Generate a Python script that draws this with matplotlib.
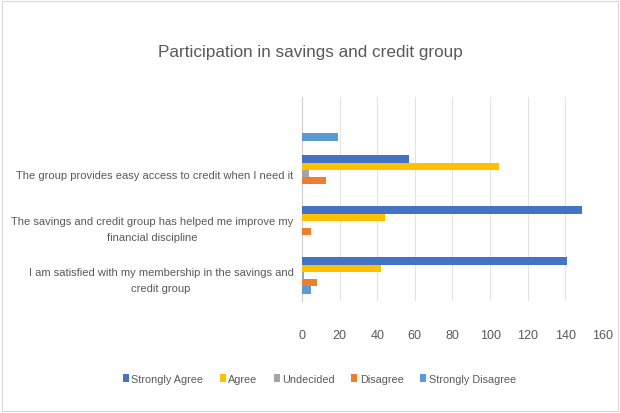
import numpy as np
import matplotlib
matplotlib.use("Agg")
import matplotlib.pyplot as plt
from matplotlib.patches import Rectangle

# ---------------------------------------------------
# DATA (categories bottom -> top, as drawn by Excel)
# ---------------------------------------------------
categories = [
    "I am satisfied with my membership in the savings and\ncredit group",
    "The savings and credit group has helped me improve my\nfinancial discipline",
    "The group provides easy access to credit when I need it",
    "",
]
series_names = ["Strongly Agree", "Agree", "Undecided", "Disagree", "Strongly Disagree"]
strongly_agree = [141, 149, 57, 0]
agree = [42, 44, 105, 0]
undecided = [1, 0, 4, 0]
disagree = [8, 5, 13, 0]
strongly_disagree = [5, 0, 0, 19]
x_ticks = [0, 20, 40, 60, 80, 100, 120, 140, 160]

colors = ["#4472C4", "#FFC000", "#A5A5A5", "#ED7D31", "#5B9BD5"]
TXT = "#595959"

plt.rcParams["font.family"] = ["Liberation Sans", "DejaVu Sans"]

fig = plt.figure(figsize=(6.2, 4.14), dpi=100)
ax = fig.add_axes([0.487, 0.2705, 0.4855, 0.4928])

values = [strongly_agree, agree, undecided, disagree, strongly_disagree]
y = np.arange(len(categories))
h = 0.143
for i, (name, vals) in enumerate(zip(series_names, values)):
    ax.barh(y + (2 - i) * h, vals, height=h, color=colors[i], label=name, zorder=3)

ax.set_xlim(0, 160)
ax.set_ylim(-0.5, len(categories) - 0.5)
ax.set_xticks(x_ticks)
ax.set_xticklabels([str(t) for t in x_ticks], color=TXT, fontsize=9)
ax.set_yticks(y)
ax.set_yticklabels(categories, color=TXT, fontsize=8.0, linespacing=1.8)
for lbl in ax.get_yticklabels():
    lbl.set_multialignment("center")
ax.tick_params(axis="both", length=0)
ax.tick_params(axis="x", pad=20)
ax.tick_params(axis="y", pad=6)

ax.grid(axis="x", color="#E3E3E3", linewidth=0.8, zorder=0)
for s in ["top", "right", "bottom"]:
    ax.spines[s].set_visible(False)
ax.spines["left"].set_color("#D0D0D0")

fig.text(0.5, 0.873, "Participation in savings and credit group",
         ha="center", va="center", fontsize=12.3, color=TXT)

leg = fig.legend(loc="center", bbox_to_anchor=(0.515, 0.082), ncol=5, frameon=False,
                 fontsize=7.8, handlelength=0.55, handleheight=0.7, handletextpad=0.25,
                 columnspacing=1.5)
for t in leg.get_texts():
    t.set_color(TXT)

fig.patches.append(Rectangle((0.004, 0.005), 0.992, 0.99, transform=fig.transFigure,
                             fill=False, edgecolor="#D9D9D9", linewidth=0.8))

fig.savefig("out.png", dpi=100)
